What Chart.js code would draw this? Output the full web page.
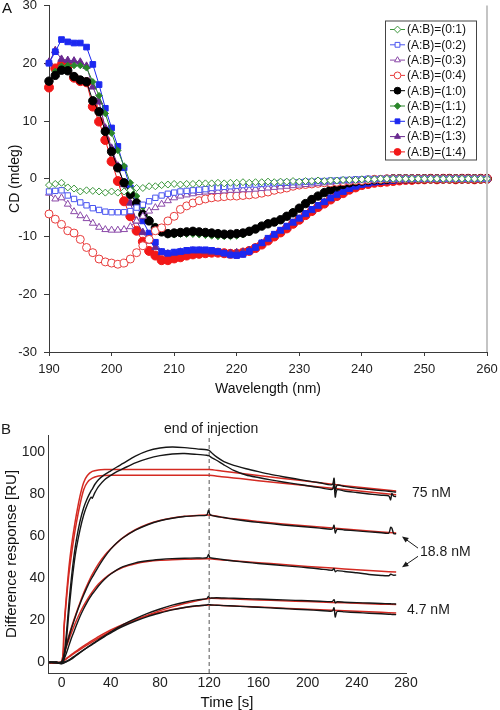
<!DOCTYPE html>
<html>
<head>
<meta charset="utf-8">
<title>CD spectra and SPR sensorgrams</title>
<script src="https://cdn.jsdelivr.net/npm/chart.js@4.4.0/dist/chart.umd.min.js"></script>
<style>
  html, body { margin: 0; padding: 0; background: #fff; }
  canvas { display: block; }
</style>
</head>
<body>
<canvas id="cdChart" width="500" height="400"></canvas>
<canvas id="sprChart" width="500" height="310"></canvas>
<script>
// ---- panel A : CD spectra (mdeg) at 1 nm steps, 190-260 nm ----
var wavelengths = Array.from({length: 71}, function (_, i) { return 190 + i; });
var wlTicks = [190, 200, 210, 220, 230, 240, 250, 260];
var cdTicks = [-30, -20, -10, 0, 10, 20, 30];
var ratioLabels = ['(A:B)=(0:1)', '(A:B)=(0:2)', '(A:B)=(0:3)', '(A:B)=(0:4)', '(A:B)=(1:0)',
                   '(A:B)=(1:1)', '(A:B)=(1:2)', '(A:B)=(1:3)', '(A:B)=(1:4)'];

var cd01 = [-1.1, -0.9, -0.7, -1.5, -1.7, -2.2, -2.0, -2.1, -2.2, -2.4,
            -2.2, -2.4, -2.2, -2.0, -1.6, -1.6, -1.3, -1.3, -1.1, -1.0,
            -0.9, -1.0, -0.9, -0.9, -0.8, -0.8, -0.8, -0.7, -0.8, -0.7,
            -0.7, -0.6, -0.7, -0.6, -0.6, -0.5, -0.6, -0.5, -0.5, -0.4,
            -0.5, -0.4, -0.4, -0.3, -0.4, -0.3, -0.3, -0.2, -0.2, -0.2,
            -0.1, -0.1, -0.1, 0, 0, 0, 0, 0, 0, 0,
            0, 0, 0, 0, 0, 0, 0, 0, 0, 0, 0];
var cd02 = [-2.2, -2.1, -2.0, -2.9, -3.5, -4.1, -4.6, -5.1, -5.4, -5.7,
            -5.8, -5.8, -5.8, -5.6, -5.0, -4.5, -3.9, -3.3, -2.9, -2.6,
            -2.4, -2.2, -2.1, -2.0, -1.9, -1.8, -1.6, -1.5, -1.4, -1.3,
            -1.2, -1.1, -1.0, -1.0, -0.9, -0.8, -0.8, -0.7, -0.7, -0.6,
            -0.6, -0.5, -0.5, -0.4, -0.4, -0.3, -0.3, -0.2, -0.2, -0.1,
            -0.1, 0, -0.1, 0, 0, 0, 0, 0, 0, 0,
            0, 0, 0, 0, 0, 0, 0, 0, 0, 0, 0];
var cd03 = [-2.5, -3.5, -3.3, -4.4, -5.7, -6.4, -6.9, -7.7, -8.4, -8.8,
            -8.9, -8.9, -8.8, -8.3, -7.3, -6.5, -5.6, -5.0, -4.4, -3.8,
            -3.3, -3.0, -2.8, -2.6, -2.4, -2.3, -2.2, -2.2, -2.1, -2.0,
            -2.0, -1.9, -1.9, -1.8, -1.7, -1.6, -1.5, -1.4, -1.3, -1.2,
            -1.1, -1.0, -0.9, -0.8, -0.7, -0.6, -0.5, -0.4, -0.4, -0.3,
            -0.2, -0.2, -0.1, -0.1, 0, 0, 0, 0, 0, 0,
            0, 0, 0, 0, 0, 0, 0, 0, 0, 0, 0];
var cd04 = [-6.1, -7.0, -7.9, -9.0, -9.4, -10.5, -11.9, -12.8, -13.9, -14.4,
            -14.6, -14.8, -14.6, -13.9, -12.8, -11.6, -10.5, -9.0, -8.5, -7.3,
            -6.5, -5.3, -4.7, -4.2, -3.8, -3.5, -3.3, -3.2, -3.1, -3.0,
            -3.0, -2.9, -2.8, -2.7, -2.5, -2.3, -2.0, -1.8, -1.6, -1.3,
            -1.1, -1.0, -0.9, -0.8, -0.7, -0.7, -0.6, -0.5, -0.4, -0.3,
            -0.3, -0.2, -0.1, -0.1, 0, 0, 0, 0, 0, 0,
            0, 0, 0, 0, 0, 0, 0, 0, 0, 0, 0];
var cd10 = [16.9, 17.9, 18.8, 18.7, 17.7, 17.1, 16.8, 13.5, 11.6, 8.2,
            4.7, 1.9, -0.7, -2.7, -4.2, -6.2, -7.3, -8.5, -9.2, -9.5,
            -9.4, -9.3, -9.2, -9.1, -9.2, -9.3, -9.4, -9.5, -9.6, -9.6,
            -9.5, -9.4, -9.1, -8.7, -8.2, -7.8, -7.5, -7.1, -6.5, -5.9,
            -5.1, -4.3, -3.6, -3.0, -2.4, -1.9, -1.4, -1.0, -0.7, -0.5,
            -0.4, -0.3, -0.2, -0.2, -0.1, 0, 0, 0, 0, 0,
            0, 0, 0, 0, 0, 0, 0, 0, 0, 0, 0];
var cd11 = [16.9, 18.6, 19.5, 19.6, 19.6, 19.6, 19.2, 16.8, 14.4, 11.3,
            7.9, 4.9, 2.2, -0.7, -3.0, -4.9, -7.0, -8.2, -9.3, -9.7,
            -9.7, -9.6, -9.6, -9.6, -9.7, -9.8, -9.9, -10.0, -10.0, -10.0,
            -9.9, -9.7, -9.3, -8.8, -8.3, -7.9, -7.5, -7.0, -6.4, -5.7,
            -5.0, -4.2, -3.5, -2.9, -2.3, -1.8, -1.3, -0.9, -0.6, -0.4,
            -0.3, -0.2, -0.2, -0.1, -0.1, 0, 0, 0, 0, 0,
            0, 0, 0, 0, 0, 0, 0, 0, 0, 0, 0];
var cd12 = [20.0, 22.0, 24.1, 23.7, 23.5, 23.5, 22.8, 19.8, 16.3, 12.2,
            8.8, 5.6, 1.9, -1.6, -4.4, -7.3, -9.4, -11.0, -12.6, -12.9,
            -12.7, -12.6, -12.4, -12.3, -12.3, -12.3, -12.4, -12.6, -12.9, -13.2,
            -13.3, -13.1, -12.6, -11.9, -11.1, -10.3, -9.6, -8.9, -8.2, -7.5,
            -6.8, -6.0, -5.3, -4.6, -4.0, -3.3, -2.7, -2.2, -1.7, -1.3,
            -1.0, -0.8, -0.6, -0.5, -0.4, -0.3, -0.2, -0.2, -0.1, -0.1,
            0, 0, 0, -0.1, 0, 0, 0, 0.1, 0, 0, 0];
var cd13 = [20.2, 22.2, 20.7, 20.5, 20.4, 20.2, 19.5, 15.9, 13.3, 8.8,
            5.3, 2.2, -1.0, -4.2, -7.3, -9.3, -10.8, -11.9, -12.8, -13.0,
            -12.9, -12.7, -12.6, -12.5, -12.5, -12.6, -12.7, -12.8, -12.9, -12.9,
            -12.8, -12.7, -12.4, -11.9, -11.2, -10.5, -9.8, -9.1, -8.4, -7.7,
            -7.0, -6.2, -5.5, -4.8, -4.1, -3.5, -2.9, -2.3, -1.8, -1.4,
            -1.0, -0.8, -0.6, -0.4, -0.3, -0.2, -0.2, -0.1, -0.1, 0,
            0, 0, 0, 0, 0, 0, 0, 0, 0, 0, 0];
var cd14 = [15.8, 19.1, 19.7, 19.5, 17.5, 16.9, 16.7, 12.5, 9.9, 6.7,
            3.0, -0.4, -3.9, -6.5, -9.0, -10.9, -12.5, -13.3, -14.1, -14.1,
            -13.8, -13.6, -13.3, -13.1, -13.0, -12.9, -12.8, -12.8, -12.9, -13.0,
            -13.0, -12.8, -12.5, -12.0, -11.4, -10.7, -10.0, -9.3, -8.6, -7.8,
            -7.1, -6.3, -5.6, -4.9, -4.3, -3.6, -3.0, -2.5, -1.9, -1.5,
            -1.1, -0.9, -0.7, -0.6, -0.5, -0.4, -0.3, -0.2, -0.2, -0.1,
            -0.1, 0, -0.1, 0, 0, -0.1, 0, 0, -0.1, 0, 0];

// ---- panel B : SPR sensorgrams (RU) ----
var timeTicks = [0, 40, 80, 120, 160, 200, 240, 280];
var ruTicks = [0, 20, 40, 60, 80, 100];
var injectionEnd = 120;

var tMeasured = [-10, -4, 0, 2, 4, 6, 8, 10, 12, 15,
                 18, 21, 24, 25, 27, 30, 35, 40, 45, 50,
                 60, 70, 80, 90, 100, 110, 118, 119.5, 120.5, 122,
                 126, 132, 140, 150, 160, 170, 180, 190, 200, 210,
                 220, 221.5, 222.5, 224, 230, 240, 250, 260, 266, 267.5,
                 268.5, 270, 272];
var meas75a = [0.3, 0, -0.5, 3, 14, 28, 40, 50, 58, 67,
               73.5, 78, 81.5, 82.3, 84.5, 86.8, 89.2, 91, 92.8, 94.5,
               98, 100.5, 101.8, 102.3, 102, 101.4, 101, 100.8, 100.4, 99.6,
               97.6, 95.4, 93.6, 92.0, 90.6, 89.3, 88.2, 87.2, 86.2, 85.3,
               84.4, 87.5, 81.5, 84.2, 83.6, 82.8, 82.2, 81.6, 81.3, 81.2,
               81.1, 81.0, 80.9];
var meas75b = [0, 0.2, -0.3, 2, 11, 24, 36, 46, 54, 63,
               70, 75, 78.5, 78, 80.5, 83.5, 86.8, 88.8, 90.6, 92,
               94.8, 96.8, 98.2, 99, 99.2, 98.8, 98.4, 98.2, 97.9, 97.3,
               96, 93.8, 91.2, 89.0, 87.8, 86.7, 85.7, 84.8, 83.9, 83.0,
               82.2, 85.0, 78.5, 82.0, 81.4, 80.7, 80.0, 79.4, 79.1, 77.2,
               80.2, 78.9, 78.8];
var meas18a = [0, -0.2, 0.3, 3.5, 8, 12, 16, 19.5, 23, 27.8,
               32, 36, 39.5, 40.5, 42.5, 45.5, 50, 53.8, 56.8, 59.2,
               62.8, 65.4, 67.3, 68.5, 69.3, 69.7, 70.0, 72.3, 70.4, 69.8,
               69.3, 68.8, 68.0, 67.2, 66.5, 65.9, 65.3, 64.8, 64.3, 63.8,
               63.3, 65.2, 61.5, 63.2, 62.9, 62.5, 62.0, 61.6, 61.4, 64.2,
               63.8, 61.2, 61.1];
var meas18b = [0, 0.1, -0.4, 1.5, 4.5, 8, 11.5, 14.5, 17.5, 21.8,
               25.5, 28.8, 31.6, 32.5, 34, 36.3, 39.5, 42, 44, 45.5,
               47.3, 48.3, 48.9, 49.3, 49.5, 49.6, 49.7, 51.3, 49.9, 49.6,
               49.3, 48.8, 48.2, 47.6, 47.0, 46.5, 46.0, 45.5, 45.0, 44.4,
               43.8, 44.6, 43.1, 43.6, 43.2, 42.6, 41.8, 41.3, 41.2, 41.9,
               41.7, 41.4, 41.5];
var meas4a = [0, -0.2, 0, 0.2, 0.6, 1.2, 2, 2.8, 3.6, 4.8,
              6, 7.2, 8.4, 8.8, 9.6, 10.8, 12.7, 14.5, 16.3, 18,
              20.8, 23.3, 25.4, 27.2, 28.6, 29.7, 30.3, 31.3, 30.6, 30.6,
              30.7, 30.6, 30.5, 30.3, 30.1, 29.9, 29.7, 29.5, 29.3, 29.1,
              28.9, 29.8, 28.3, 28.8, 28.6, 28.4, 28.2, 28.0, 27.9, 27.9,
              27.8, 27.8, 27.7];
var meas4b = [0.2, 0, -0.6, -0.3, 0.3, 0.9, 1.6, 2.4, 3.3, 4.6,
              5.9, 7.1, 8.2, 8.6, 9.3, 10.5, 12.3, 14.0, 15.7, 17.2,
              19.7, 21.8, 23.5, 25.0, 26.1, 26.9, 27.3, 27.6, 27.4, 27.3,
              27.2, 27.0, 26.8, 26.5, 26.2, 25.9, 25.6, 25.3, 25.0, 24.7,
              24.4, 26.0, 21.6, 24.2, 24.0, 23.7, 23.4, 23.1, 22.9, 22.9,
              22.8, 22.8, 22.7];

var tFit = [-10, 0, 2, 4, 6, 8, 10, 12, 15, 18,
            21, 25, 30, 35, 40, 50, 60, 70, 80, 90,
            100, 110, 120, 130, 140, 150, 160, 180, 200, 220,
            240, 260, 272];
var fit75a = [0, 0, 17, 32, 45, 55, 63, 70, 79, 85.5,
              88.8, 90.7, 91.4, 91.6, 91.6, 91.6, 91.6, 91.6, 91.6, 91.6,
              91.6, 91.6, 91.6, 90.9, 90.2, 89.5, 88.8, 87.4, 86.0, 84.6,
              83.3, 82.1, 81.4];
var fit75b = [0, 0, 16, 30, 42, 51, 59, 66, 75, 82,
              85.5, 87.5, 88.5, 88.8, 88.9, 88.9, 88.9, 88.9, 88.9, 88.9,
              88.9, 88.9, 88.9, 88.2, 87.6, 87.0, 86.3, 85.1, 83.9, 82.7,
              81.5, 80.3, 79.6];
var fit18a = [0, 0, 4.5, 8.8, 12.8, 16.6, 20.2, 23.5, 28.4, 33,
              37, 41.8, 46.8, 50.8, 54, 59.3, 63, 65.6, 67.4, 68.6,
              69.4, 69.8, 70.0, 69.0, 68.2, 67.6, 66.9, 65.8, 64.8, 63.8,
              62.9, 62.0, 61.5];
var fit18b = [0, 0, 3.8, 7.4, 10.8, 14, 17, 19.8, 23.6, 27,
              30, 33.5, 37.2, 40, 42.2, 45.2, 46.9, 47.9, 48.5, 48.8,
              49.0, 49.1, 49.2, 48.7, 48.3, 47.8, 47.4, 46.5, 45.6, 44.8,
              44.0, 43.3, 42.9];
var fit4a = [0, 0, 0.9, 1.7, 2.6, 3.4, 4.2, 5.0, 6.1, 7.3,
             8.4, 9.8, 11.5, 13.2, 14.7, 17.6, 20.2, 22.5, 24.6, 26.4,
             28.0, 29.3, 30.4, 30.3, 30.1, 29.9, 29.7, 29.3, 28.9, 28.5,
             28.1, 27.7, 27.5];
var fit4b = [0, 0, 0.9, 1.9, 2.8, 3.7, 4.6, 5.4, 6.7, 7.9,
             9.0, 10.5, 12.3, 13.9, 15.4, 18.0, 20.3, 22.2, 23.8, 25.1,
             26.1, 26.8, 27.3, 27.1, 26.8, 26.6, 26.3, 25.8, 25.3, 24.8,
             24.3, 23.8, 23.5];

var FONT = '"Liberation Sans", Arial, Helvetica, sans-serif';
var AXIS = '#3a3a3a';

function xy(xs, ys) {
  return ys.map(function (v, i) { return {x: xs[i], y: v}; });
}

function cdSet(label, values, color, style, filled, r) {
  return {
    label: label,
    data: xy(wavelengths, values),
    borderColor: color,
    backgroundColor: color,
    borderWidth: 1,
    pointStyle: style,
    pointRadius: r,
    pointBorderWidth: 1,
    pointBorderColor: color,
    pointBackgroundColor: filled ? color : '#ffffff',
    clip: false
  };
}

var cdSeries = [cd01, cd02, cd03, cd04, cd10, cd11, cd12, cd13, cd14];
var cdColors = ['#3a963a', '#4a55f0', '#8a48a8', '#e83a3a', '#000000', '#2a862a', '#1c28f0', '#6a2a90', '#f21818'];
var cdStyles = ['rectRot', 'rect', 'triangle', 'circle', 'circle', 'rectRot', 'rect', 'triangle', 'circle'];
var cdFilled = [false, false, false, false, true, true, true, true, true];
var cdRadius = [3.5, 3.8, 4, 4, 4.2, 3.2, 4, 4.3, 4.5];

var cdDatasets = cdSeries.map(function (vals, i) {
  return cdSet(ratioLabels[i], vals, cdColors[i], cdStyles[i], cdFilled[i], cdRadius[i]);
});

function fixedTicks(list) {
  return function (scale) { scale.ticks = list.map(function (v) { return {value: v}; }); };
}

// legend box, right frame line and panel letter for A
var cdDecor = {
  id: 'cdDecor',
  afterDraw: function (chart) {
    var ctx = chart.ctx, ca = chart.chartArea;
    ctx.save();
    ctx.strokeStyle = '#c4c4c4';
    ctx.lineWidth = 2;
    ctx.beginPath();
    ctx.moveTo(ca.right, ca.top);
    ctx.lineTo(ca.right, ca.bottom);
    ctx.stroke();

    var bx = ca.right - 102, by = ca.top + 15, bw = 91, bh = 139;
    ctx.fillStyle = '#fff';
    ctx.fillRect(bx, by, bw, bh);
    ctx.strokeStyle = '#444';
    ctx.lineWidth = 1;
    ctx.strokeRect(bx + 0.5, by + 0.5, bw, bh);

    ctx.font = '12px ' + FONT;
    ctx.textBaseline = 'middle';
    ctx.textAlign = 'left';
    chart.data.datasets.forEach(function (ds, i) {
      var yy = by + 9 + i * 15.3;
      ctx.strokeStyle = ds.borderColor;
      ctx.lineWidth = 1;
      ctx.beginPath();
      ctx.moveTo(bx + 5, yy);
      ctx.lineTo(bx + 20, yy);
      ctx.stroke();
      ctx.fillStyle = ds.pointBackgroundColor;
      Chart.helpers.drawPoint(ctx, {pointStyle: ds.pointStyle, radius: Math.min(ds.pointRadius, 3.4), rotation: 0, borderWidth: 1}, bx + 12.5, yy);
      ctx.fillStyle = '#111';
      ctx.fillText(ds.label, bx + 22, yy + 0.5);
    });

    ctx.font = '15px ' + FONT;
    ctx.textAlign = 'center';
    ctx.fillStyle = '#111';
    ctx.fillText('A', 7, 9);
    ctx.restore();
  }
};

new Chart(document.getElementById('cdChart'), {
  type: 'line',
  data: {datasets: cdDatasets},
  options: {
    responsive: false,
    animation: false,
    layout: {padding: {top: 3, right: 13, bottom: 0, left: 0}},
    plugins: {legend: {display: false}, tooltip: {enabled: false}},
    scales: {
      x: {
        type: 'linear', min: 190, max: 260,
        afterBuildTicks: fixedTicks(wlTicks),
        afterFit: function (s) { s.height = 48; s.paddingLeft = 0; s.paddingRight = 0; },
        grid: {drawOnChartArea: false, drawTicks: true, tickLength: 4, color: AXIS},
        border: {display: true, color: AXIS, width: 1},
        ticks: {color: '#222', padding: 6, font: {family: FONT, size: 13}, maxRotation: 0},
        title: {display: true, text: 'Wavelength (nm)', color: '#111', padding: {top: 0, bottom: 2}, font: {family: FONT, size: 14}}
      },
      y: {
        type: 'linear', min: -30, max: 30,
        afterBuildTicks: fixedTicks(cdTicks),
        afterFit: function (s) { s.width = 49; s.paddingTop = 0; s.paddingBottom = 0; },
        grid: {drawOnChartArea: false, drawTicks: true, tickLength: 5, color: AXIS},
        border: {display: true, color: AXIS, width: 1},
        ticks: {color: '#222', padding: 7, font: {family: FONT, size: 13}},
        title: {display: true, text: 'CD (mdeg)', color: '#111', padding: {top: 7, bottom: 0}, font: {family: FONT, size: 14}}
      }
    }
  },
  plugins: [cdDecor]
});

// ---- panel B ----
function sprSet(xs, ys, color, width) {
  return {
    data: xy(xs, ys),
    borderColor: color,
    borderWidth: width,
    pointRadius: 0,
    tension: 0.25,
    fill: false
  };
}

var measured = [meas75a, meas75b, meas18a, meas18b, meas4a, meas4b];
var fitted = [fit75a, fit75b, fit18a, fit18b, fit4a, fit4b];
var sprDatasets = [];
measured.forEach(function (m) { sprDatasets.push(sprSet(tMeasured, m, '#161616', 1.4)); });
fitted.forEach(function (f) { sprDatasets.push(sprSet(tFit, f, '#d42a22', 1.5)); });
sprDatasets.push({
  data: [{x: injectionEnd, y: -5}, {x: injectionEnd, y: 108}],
  borderColor: '#555', borderWidth: 1, borderDash: [4, 3], pointRadius: 0
});

function arrow(ctx, x1, y1, x2, y2) {
  var a = Math.atan2(y2 - y1, x2 - x1), h = 7;
  ctx.beginPath();
  ctx.moveTo(x1, y1);
  ctx.lineTo(x2 - Math.cos(a) * h * 0.8, y2 - Math.sin(a) * h * 0.8);
  ctx.stroke();
  ctx.beginPath();
  ctx.moveTo(x2, y2);
  ctx.lineTo(x2 - h * Math.cos(a - 0.4), y2 - h * Math.sin(a - 0.4));
  ctx.lineTo(x2 - h * Math.cos(a + 0.4), y2 - h * Math.sin(a + 0.4));
  ctx.closePath();
  ctx.fill();
}

var sprNotes = {
  id: 'sprNotes',
  afterDraw: function (chart) {
    var ctx = chart.ctx, ca = chart.chartArea, xs = chart.scales.x, ys = chart.scales.y;
    ctx.save();
    ctx.fillStyle = '#1a1a1a';
    ctx.strokeStyle = '#1a1a1a';
    ctx.lineWidth = 1;
    ctx.font = '14px ' + FONT;
    ctx.textBaseline = 'middle';
    ctx.textAlign = 'center';
    ctx.fillText('end of injection', xs.getPixelForValue(injectionEnd) + 2, ca.top - 6);
    ctx.textAlign = 'left';
    ctx.fillText('75 nM', ca.right + 6, ys.getPixelForValue(80.2));
    ctx.fillText('18.8 nM', ca.right + 14, ys.getPixelForValue(52.4));
    ctx.fillText('4.7 nM', ca.right + 1, ys.getPixelForValue(24.8));
    arrow(ctx, ca.right + 12, ys.getPixelForValue(54.3), ca.right - 4, ys.getPixelForValue(59.8));
    arrow(ctx, ca.right + 12, ys.getPixelForValue(50.4), ca.right - 4, ys.getPixelForValue(45.2));
    ctx.font = '15px ' + FONT;
    ctx.textAlign = 'center';
    ctx.fillText('B', 6, 30);
    ctx.restore();
  }
};

new Chart(document.getElementById('sprChart'), {
  type: 'line',
  data: {datasets: sprDatasets},
  options: {
    responsive: false,
    animation: false,
    layout: {padding: {top: 35, right: 94, bottom: 0, left: 0}},
    plugins: {legend: {display: false}, tooltip: {enabled: false}},
    scales: {
      x: {
        type: 'linear', min: -11, max: 280,
        afterBuildTicks: fixedTicks(timeTicks),
        afterFit: function (s) { s.height = 37; s.paddingLeft = 0; s.paddingRight = 0; },
        grid: {display: false, drawTicks: false},
        border: {display: true, color: AXIS, width: 1},
        ticks: {color: '#222', padding: 2, font: {family: FONT, size: 14}, maxRotation: 0},
        title: {display: true, text: 'Time [s]', color: '#111', padding: {top: 0, bottom: 0}, font: {family: FONT, size: 15, lineHeight: 1}}
      },
      y: {
        type: 'linear', min: -5, max: 108,
        afterBuildTicks: fixedTicks(ruTicks),
        afterFit: function (s) { s.width = 48; s.paddingTop = 0; s.paddingBottom = 0; },
        grid: {display: false, drawTicks: false},
        border: {display: true, color: AXIS, width: 1},
        ticks: {color: '#222', padding: 3, font: {family: FONT, size: 14}},
        title: {display: true, text: 'Difference response [RU]', color: '#111', padding: {top: 3, bottom: 0}, font: {family: FONT, size: 15}}
      }
    }
  },
  plugins: [sprNotes]
});
</script>
</body>
</html>
